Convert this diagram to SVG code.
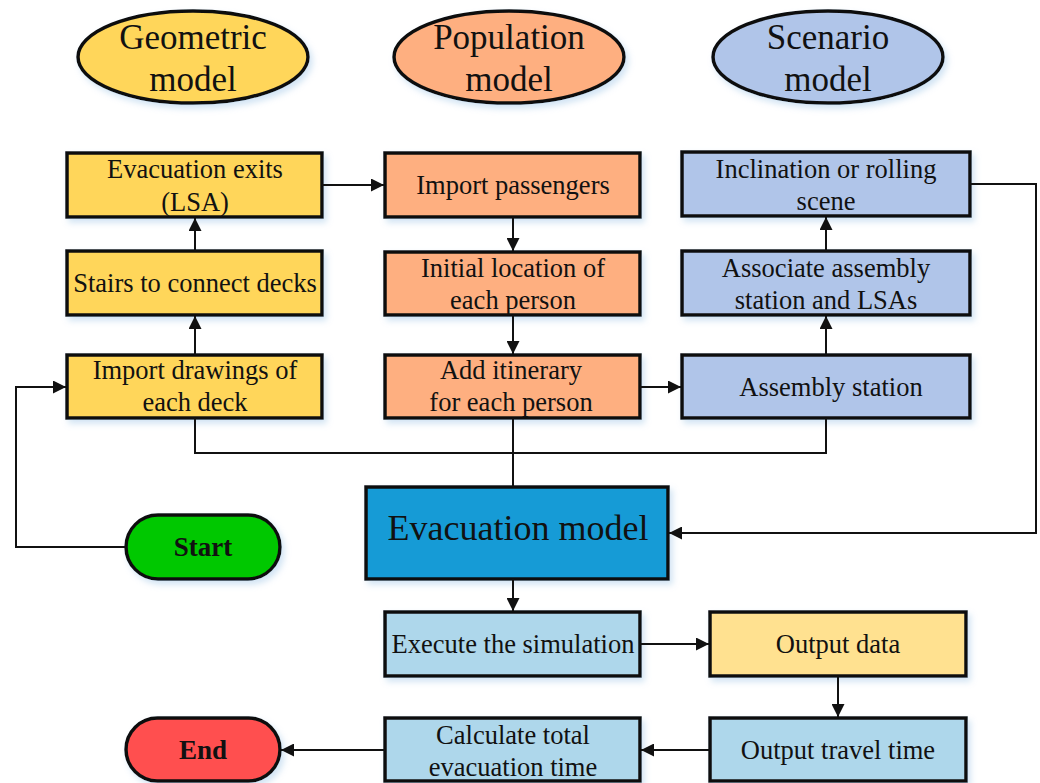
<svg xmlns="http://www.w3.org/2000/svg" width="1040" height="783" viewBox="0 0 1040 783">
<style>
.n{stroke:#111;stroke-width:3.5;filter:url(#sh)}
.t{font-family:"Liberation Serif","Times New Roman",serif;font-size:26.5px;fill:#111;text-anchor:middle;dominant-baseline:central}
.te{font-size:35px}
.tb{font-weight:bold;font-size:27px}
.c{fill:none;stroke:#111;stroke-width:2}
.y{fill:#FFD65A}.o{fill:#FEAF80}.b{fill:#B0C5E9}.lb{fill:#AED7EB}.em{fill:#179BD6}.od{fill:#FFE190}
</style>
<defs>
<filter id="sh" x="-10%" y="-10%" width="125%" height="135%">
<feDropShadow dx="3" dy="4" stdDeviation="3" flood-color="#9cc3e6" flood-opacity="0.45"/>
</filter>
<marker id="a" viewBox="0 0 10 10" refX="10" refY="5" markerWidth="6.5" markerHeight="6.5" orient="auto" markerUnits="strokeWidth">
<path d="M0,0L10,5L0,10z" fill="#111"/>
</marker>
</defs>

<g id="geometric-model"><ellipse class="n y" cx="193" cy="57" rx="115" ry="46"/><text class="t te" x="193" y="37">Geometric</text><text class="t te" x="193" y="79">model</text></g>
<g id="population-model"><ellipse class="n o" cx="509" cy="57" rx="115" ry="46"/><text class="t te" x="509" y="37">Population</text><text class="t te" x="509" y="79">model</text></g>
<g id="scenario-model"><ellipse class="n b" cx="828" cy="57" rx="115" ry="46"/><text class="t te" x="828" y="37">Scenario</text><text class="t te" x="828" y="79">model</text></g>

<g id="evacuation-exits"><rect class="n y" x="67" y="153" width="255" height="64"/><text class="t" x="195" y="169">Evacuation exits</text><text class="t" x="195" y="202">(LSA)</text></g>
<g id="stairs"><rect class="n y" x="67" y="251" width="255" height="64"/><text class="t" x="195" y="283">Stairs to connect decks</text></g>
<g id="import-drawings"><rect class="n y" x="67" y="355" width="255" height="63"/><text class="t" x="195" y="370">Import drawings of</text><text class="t" x="195" y="402">each deck</text></g>

<g id="import-passengers"><rect class="n o" x="385" y="153" width="255" height="64"/><text class="t" x="513" y="185">Import passengers</text></g>
<g id="initial-location"><rect class="n o" x="385" y="252" width="255" height="63"/><text class="t" x="513" y="268">Initial location of</text><text class="t" x="513" y="300">each person</text></g>
<g id="add-itinerary"><rect class="n o" x="385" y="355" width="255" height="63"/><text class="t" x="511" y="370">Add itinerary</text><text class="t" x="511" y="402">for each person</text></g>

<g id="inclination"><rect class="n b" x="682" y="152" width="288" height="64"/><text class="t" x="826" y="169">Inclination or rolling</text><text class="t" x="826" y="201">scene</text></g>
<g id="associate"><rect class="n b" x="682" y="251" width="288" height="64"/><text class="t" x="826" y="268">Associate assembly</text><text class="t" x="826" y="300">station and LSAs</text></g>
<g id="assembly-station"><rect class="n b" x="682" y="355" width="288" height="63"/><text class="t" x="831" y="387">Assembly station</text></g>

<g id="evacuation-model"><rect class="n em" x="366" y="487" width="302" height="92"/><text class="t" x="518" y="528" style="font-size:36px">Evacuation model</text></g>
<g id="start"><rect class="n" style="fill:#00C800" x="126" y="515" width="154" height="64" rx="32"/><text class="t tb" x="203" y="547">Start</text></g>
<g id="execute"><rect class="n lb" x="385" y="612" width="255" height="64"/><text class="t" x="513" y="644">Execute the simulation</text></g>
<g id="output-data"><rect class="n od" x="710" y="612" width="256" height="64"/><text class="t" x="838" y="644">Output data</text></g>
<g id="output-travel-time"><rect class="n lb" x="710" y="718" width="256" height="63"/><text class="t" x="838" y="750">Output travel time</text></g>
<g id="calculate"><rect class="n lb" x="385" y="718" width="255" height="63"/><text class="t" x="513" y="735">Calculate total</text><text class="t" x="513" y="767">evacuation time</text></g>
<g id="end"><rect class="n" style="fill:#FF4F4F" x="126" y="718" width="154" height="63" rx="31.5"/><text class="t tb" x="203" y="750">End</text></g>

<g id="connectors">
<path class="c" d="M322,185H384" marker-end="url(#a)"/>
<path class="c" d="M513,217V251" marker-end="url(#a)"/>
<path class="c" d="M513,315V354" marker-end="url(#a)"/>
<path class="c" d="M640,387H681" marker-end="url(#a)"/>
<path class="c" d="M826,355V316" marker-end="url(#a)"/>
<path class="c" d="M826,251V217" marker-end="url(#a)"/>
<path class="c" d="M195,355V316" marker-end="url(#a)"/>
<path class="c" d="M195,251V218" marker-end="url(#a)"/>
<path class="c" d="M195,418V453H826V418"/>
<path class="c" d="M513,418V487"/>
<path class="c" d="M970,184H1036V533H669" marker-end="url(#a)"/>
<path class="c" d="M126,547H16V387H66" marker-end="url(#a)"/>
<path class="c" d="M513,579V611" marker-end="url(#a)"/>
<path class="c" d="M640,644H709" marker-end="url(#a)"/>
<path class="c" d="M838,676V717" marker-end="url(#a)"/>
<path class="c" d="M710,750H641" marker-end="url(#a)"/>
<path class="c" d="M385,750H281" marker-end="url(#a)"/>
</g>
</svg>
